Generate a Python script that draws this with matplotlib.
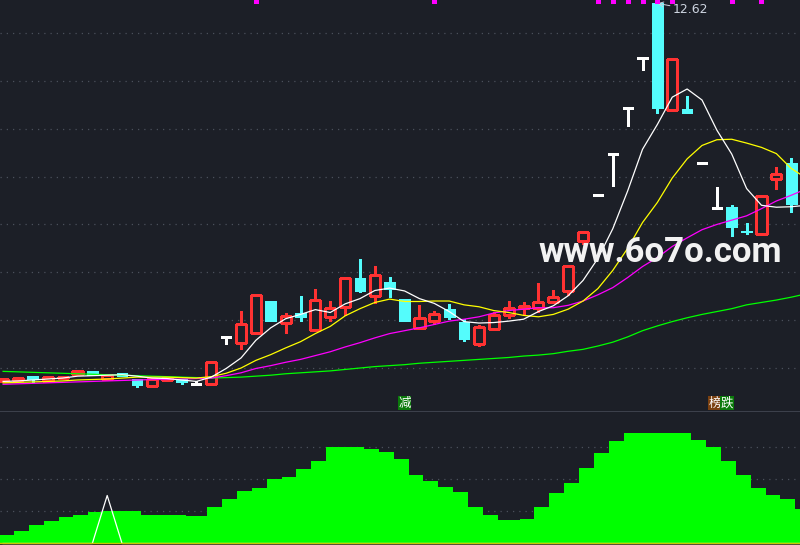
import numpy as np
import matplotlib
matplotlib.use('Agg')
import matplotlib.pyplot as plt
from matplotlib.patches import Rectangle

plt.rcParams['font.family'] = ['DejaVu Sans', 'Noto Sans CJK SC']

# K线数据
opens = [4.73, 4.75, 4.83, 4.73, 4.79, 4.88, 4.94, 4.77, 4.90, 4.77,
         4.62, 4.75, 4.77, 4.67, 4.67, 5.65, 5.52, 5.73, 6.40, 5.94,
         6.15, 5.79, 6.07, 6.28, 6.88, 6.51, 6.80, 6.44, 5.84, 5.98,
         6.23, 5.96, 5.50, 5.82, 6.11, 6.25, 6.25, 6.38, 6.61, 7.65,
         8.62, 9.47, 10.43, 11.48, 12.62, 10.39, 10.41, 9.28, 8.34, 8.36,
         7.86, 7.80, 8.95, 9.28]
highs = [4.77, 4.81, 4.83, 4.81, 4.84, 4.94, 4.94, 4.85, 4.90, 4.77,
         4.77, 4.79, 4.77, 4.73, 5.13, 5.65, 6.19, 6.53, 6.40, 6.15,
         6.51, 6.65, 6.40, 6.88, 7.28, 7.13, 6.90, 6.44, 6.32, 6.19,
         6.34, 6.02, 5.90, 6.17, 6.40, 6.38, 6.78, 6.63, 7.13, 7.84,
         8.62, 9.47, 10.43, 11.48, 12.62, 11.46, 10.68, 9.28, 8.78, 8.41,
         8.03, 8.59, 9.20, 9.39]
lows = [4.73, 4.75, 4.71, 4.73, 4.79, 4.85, 4.85, 4.77, 4.83, 4.60,
        4.62, 4.75, 4.67, 4.67, 4.67, 5.50, 5.40, 5.73, 5.98, 5.73,
        5.98, 5.79, 5.98, 6.11, 6.59, 6.36, 6.48, 5.98, 5.82, 5.92,
        6.02, 5.57, 5.46, 5.82, 6.05, 6.11, 6.17, 6.38, 6.53, 7.59,
        8.62, 8.80, 10.06, 11.23, 10.33, 10.39, 10.33, 9.28, 8.34, 7.76,
        7.80, 7.80, 8.74, 8.26]
closes = [4.77, 4.79, 4.77, 4.81, 4.81, 4.94, 4.85, 4.85, 4.83, 4.65,
          4.77, 4.79, 4.71, 4.67, 5.13, 5.65, 5.92, 6.53, 5.98, 6.09,
          6.07, 6.42, 6.25, 6.88, 6.61, 6.94, 6.65, 5.98, 6.05, 6.13,
          6.07, 5.61, 5.86, 6.11, 6.25, 6.30, 6.38, 6.48, 7.13, 7.84,
          8.62, 9.47, 10.43, 11.48, 10.43, 11.46, 10.33, 9.28, 8.34, 7.95,
          7.84, 8.59, 9.05, 8.43]

# 均线
ma5 = [4.72, 4.73, 4.75, 4.77, 4.79, 4.83, 4.84, 4.85, 4.86, 4.83,
       4.79, 4.78, 4.75, 4.72, 4.81, 4.99, 5.21, 5.58, 5.84, 6.03,
       6.12, 6.22, 6.16, 6.34, 6.45, 6.62, 6.67, 6.61, 6.45, 6.35,
       6.18, 5.97, 5.94, 5.95, 5.98, 6.02, 6.18, 6.30, 6.51, 6.83,
       7.29, 7.91, 8.70, 9.57, 10.09, 10.66, 10.83, 10.60, 9.97, 9.47,
       8.75, 8.40, 8.36, 8.37, 8.40]
ma10 = [4.69, 4.70, 4.71, 4.72, 4.73, 4.75, 4.76, 4.77, 4.79, 4.81,
        4.81, 4.81, 4.80, 4.79, 4.82, 4.89, 5.00, 5.16, 5.28, 5.42,
        5.55, 5.72, 5.87, 6.09, 6.24, 6.37, 6.44, 6.39, 6.39, 6.40,
        6.40, 6.32, 6.28, 6.20, 6.16, 6.10, 6.07, 6.12, 6.23, 6.40,
        6.66, 7.04, 7.50, 8.04, 8.46, 8.97, 9.37, 9.65, 9.77, 9.78,
        9.70, 9.61, 9.48, 9.17, 8.97]
ma20 = [4.66, 4.67, 4.68, 4.69, 4.70, 4.71, 4.72, 4.73, 4.74, 4.75,
        4.76, 4.76, 4.77, 4.78, 4.79, 4.84, 4.90, 4.99, 5.05, 5.12,
        5.18, 5.26, 5.34, 5.44, 5.53, 5.63, 5.72, 5.78, 5.84, 5.91,
        5.98, 6.02, 6.07, 6.15, 6.20, 6.23, 6.26, 6.26, 6.31, 6.40,
        6.53, 6.68, 6.89, 7.12, 7.31, 7.54, 7.72, 7.89, 8.00, 8.09,
        8.18, 8.33, 8.49, 8.61, 8.74]
ma60 = [4.93, 4.92, 4.91, 4.90, 4.89, 4.88, 4.87, 4.86, 4.85, 4.84,
        4.83, 4.82, 4.81, 4.80, 4.79, 4.80, 4.81, 4.83, 4.85, 4.88,
        4.90, 4.92, 4.94, 4.97, 5.00, 5.03, 5.05, 5.07, 5.10, 5.12,
        5.14, 5.16, 5.18, 5.20, 5.22, 5.25, 5.27, 5.30, 5.35, 5.39,
        5.46, 5.54, 5.65, 5.78, 5.88, 5.97, 6.05, 6.12, 6.18, 6.24,
        6.32, 6.37, 6.42, 6.48, 6.55]

# 副图指标
sub_bars = [5.6, 7.5, 11.3, 13.8, 16.3, 17.5, 19.4, 20.0, 20.0, 20.0,
            18.1, 18.1, 18.1, 16.9, 22.5, 27.5, 33.1, 34.4, 40.0, 41.3,
            46.3, 51.3, 60.0, 60.0, 60.0, 58.8, 56.9, 52.5, 43.1, 38.8,
            35.0, 31.9, 23.1, 18.1, 14.4, 15.6, 22.5, 31.3, 38.1, 46.9,
            56.3, 63.8, 68.8, 68.8, 68.8, 68.8, 68.8, 64.4, 60.0, 51.3,
            43.1, 34.4, 30.6, 28.1, 21.3]
sub_line = [0, 0, 0, 0, 0, 0, 0, 30, 0, 0,
            0, 0, 0, 0, 0, 0, 0, 0, 0, 0,
            0, 0, 0, 0, 0, 0, 0, 0, 0, 0,
            0, 0, 0, 0, 0, 0, 0, 0, 0, 0,
            0, 0, 0, 0, 0, 0, 0, 0, 0, 0,
            0, 0, 0, 0, 0]

# 信号
signal_idx = [17, 29, 40, 41, 42, 43, 44, 45, 49, 51]
jian_idx = 27
bangdie_idx = 48
price_grid = [5, 6, 7, 8, 9, 10, 11, 12]
sub_grid = [20, 40, 60]

BG = '#1c1f27'
RED = '#ff3232'
CYAN = '#54fcfc'
GRID = '#4b505b'

fig = plt.figure(figsize=(8, 5.45), dpi=100, facecolor=BG)
ax = fig.add_axes([0, 134 / 545, 1, 411 / 545])
ax2 = fig.add_axes([0, 0, 1, 134 / 545])

px = 47.86  # 每元像素
ytop = 12.6895
xlim = (-0.208, 53.59)

for a in (ax, ax2):
    a.set_facecolor(BG)
    a.set_xlim(*xlim)
    a.set_xticks([])
    a.set_yticks([])
    for s in a.spines.values():
        s.set_visible(False)

ax.set_ylim(ytop - 411 / px, ytop)
for g in price_grid:
    ax.axhline(g, color=GRID, lw=0.9, ls=(0, (1, 4)), zorder=1)

# K线
for i, (o, h, l, c) in enumerate(zip(opens, highs, lows, closes)):
    if c > o:
        col = RED
    elif c < o:
        col = CYAN
    else:
        col = 'white'
    ax.vlines(i, l, h, color=col, lw=0.75, zorder=2, antialiased=False)
    if c > o:
        ax.add_patch(Rectangle((i - 0.34, o), 0.68, c - o, fc=BG, ec=RED,
                               lw=0.8, joinstyle='miter', zorder=2.5,
                               antialiased=False))
    elif c < o:
        ax.add_patch(Rectangle((i - 0.36, c), 0.72, o - c, fc=CYAN, ec=CYAN,
                               lw=0.5, zorder=2.5, antialiased=False))
    else:
        ax.hlines(o, i - 0.34, i + 0.34, color='white', lw=0.8, zorder=2.5,
                  antialiased=False)

# 均线
xs = np.arange(len(ma5))
ax.plot(xs, ma60, color='#00ff00', lw=0.9, zorder=3)
ax.plot(xs, ma20, color='#ff00ff', lw=0.9, zorder=3)
ax.plot(xs, ma10, color='#ffff00', lw=0.9, zorder=3)
ax.plot(xs, ma5, color='white', lw=0.9, zorder=3)

# 顶部信号
ax.vlines(signal_idx, ytop - 3.2 / px, ytop, color='#ff00ff', lw=2.2,
          zorder=4, antialiased=False)

# 最高价标注
hi = int(np.argmax(highs))
ax.annotate(f'{highs[hi]:.2f}', xy=(hi, highs[hi]), xytext=(11, -4.5),
            textcoords='offset points', ha='left', va='center',
            fontsize=9, color='#cdd4e0',
            arrowprops=dict(arrowstyle='->', color='#cdd4e0', lw=0.7,
                            shrinkA=0, shrinkB=0))

# 文字标签
label_y = ytop - 403 / px
ax.text(jian_idx, label_y, '减', color='white', fontsize=9, ha='center',
        va='center', family=['Noto Sans CJK SC'], zorder=5,
        bbox=dict(boxstyle='square,pad=0.05', fc='#0b7a0b', ec='none'))
ax.text(bangdie_idx + 0.28, label_y, '榜', color='white', fontsize=9,
        ha='right', va='center', family=['Noto Sans CJK SC'], zorder=5,
        bbox=dict(boxstyle='square,pad=0.05', fc='#7a4010', ec='none'))
ax.text(bangdie_idx + 0.28, label_y, '跌', color='white', fontsize=9,
        ha='left', va='center', family=['Noto Sans CJK SC'], zorder=5,
        bbox=dict(boxstyle='square,pad=0.05', fc='#0b7a0b', ec='none'))

# 副图
ax2.set_ylim(-0.94, 82.8)
for g in sub_grid:
    ax2.axhline(g, color=GRID, lw=0.9, ls=(0, (1, 4)), zorder=1)
n = len(sub_bars)
gap_h = [min(sub_bars[i], sub_bars[i + 1]) for i in range(n - 1)]
ax2.bar(np.arange(n - 1) + 0.5, gap_h, width=1.0, color='#00ff00',
        linewidth=0, zorder=2)
ax2.bar(np.arange(n), sub_bars, width=0.54, color='#00ff00', linewidth=0,
        zorder=2)
ax2.plot(np.arange(n), sub_line, color='white', lw=0.9, zorder=3)
ax2.axhline(0, color='#c8c800', lw=1.0, zorder=4)
ax2.axhline(82.8, color='#40444f', lw=1.3, zorder=4)

# 水印
fig.text(0.825, 0.519, 'www.6o7o.com', fontsize=25, fontweight='bold',
         family=['Roboto'], color='#f2f2f2', ha='center', va='baseline')

fig.savefig('out.png', dpi=100, facecolor=BG)
